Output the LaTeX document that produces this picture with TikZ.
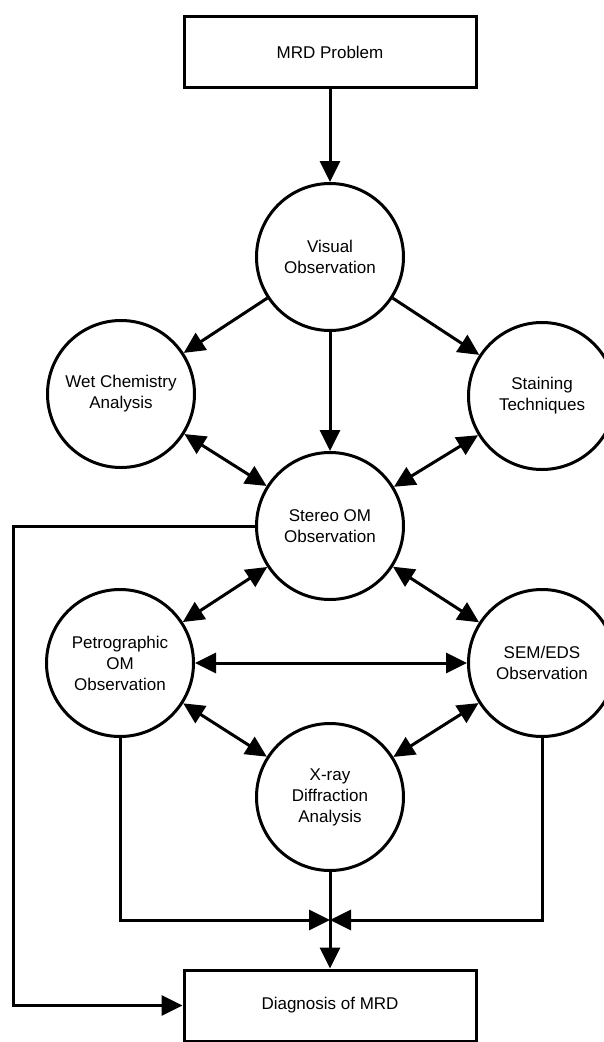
\documentclass[tikz,border=0pt]{standalone}
\usepackage{fontspec}
\setmainfont{Liberation Sans}
\usetikzlibrary{arrows.meta}
\begin{document}
\begin{tikzpicture}[x=1pt,y=-1pt,
  circ/.style={circle,draw,line width=3pt,minimum size=147pt,inner sep=0pt,align=center,font=\fontsize{17}{21}\selectfont},
  box/.style={rectangle,draw,line width=3pt,minimum width=292pt,minimum height=71pt,inner sep=0pt,font=\fontsize{17}{21}\selectfont},
  conn/.style={line width=3pt,-{Triangle[length=21pt,width=20pt]}},
  bi/.style={line width=3pt,{Triangle[length=21pt,width=20pt]}-{Triangle[length=21pt,width=20pt]}}
]
\useasboundingbox (0,0) rectangle (604,1042);
\clip (0,0) rectangle (604,1042);
\fill[white] (0,0) rectangle (604,1042);
\node[box] (mrd) at (330,52) {MRD Problem};
\node[circ] (vis) at (330,257) {Visual\\Observation};
\node[circ] (wet) at (121,394) {Wet Chemistry\\Analysis};
\node[circ] (stain) at (542,396) {Staining\\Techniques};
\node[circ] (stereo) at (330,526) {Stereo OM\\Observation};
\node[circ] (petro) at (120,663) {Petrographic\\OM\\Observation};
\node[circ] (sem) at (542,663) {SEM/EDS\\Observation};
\node[circ] (xrd) at (330,797) {X-ray\\Diffraction\\Analysis};
\node[box] (diag) at (330,1005.5) {Diagnosis of MRD};
\coordinate (j) at (330,920);
\coordinate (lc) at (13,526);
\draw[conn] (mrd) -- (vis);
\draw[conn] (vis) -- (wet);
\draw[conn] (vis) -- (stereo);
\draw[conn] (vis) -- (stain);
\draw[bi] (wet) -- (stereo);
\draw[bi] (stain) -- (stereo);
\draw[bi] (stereo) -- (petro);
\draw[bi] (stereo) -- (sem);
\draw[bi] (petro) -- (sem);
\draw[bi] (petro) -- (xrd);
\draw[bi] (sem) -- (xrd);
\draw[conn] (petro) |- (j);
\draw[conn] (sem) |- (j);
\draw[conn] (xrd) -- (diag);
\draw[conn] (stereo.west) -- (lc) |- (diag.west);
\end{tikzpicture}
\end{document}
